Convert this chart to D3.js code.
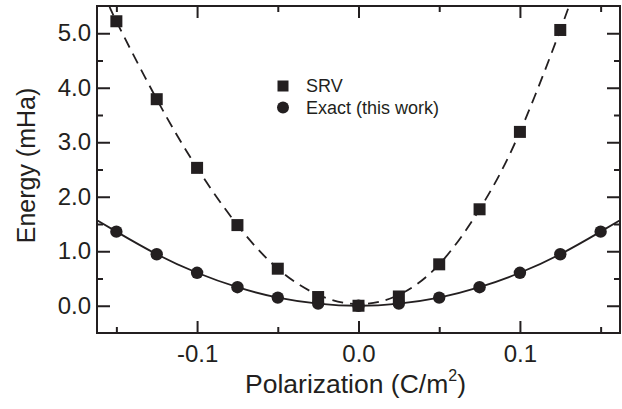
<!DOCTYPE html>
<html lang="en">
<head>
  <meta charset='utf-8'>
  <title>Energy vs polarization</title>
  <style>
    body { margin:0; background:#fff; }
    svg { display:block; background:#fff; }
    text { font-family: "Liberation Sans", Arial, Helvetica, sans-serif; fill:#231f20; }
    .tick line { stroke:#231f20; stroke-width:2px; }
    .domain { display:none; }
  </style>
</head>
<body>
  <div id="d3_energyPlot"></div>
</body>

<script src="https://cdn.jsdelivr.net/npm/d3@7/dist/d3.min.js"></script>

<script>

  ////////////////////////////////////////////////// DATA

  // polarization grid (C/m^2)
  var polarization = [-0.15, -0.125, -0.1, -0.075, -0.05, -0.025, 0.0, 0.025, 0.05, 0.075, 0.1, 0.125, 0.15];

  // energies (mHa), null = off the chart
  var srvEnergy   = [5.22, 3.79, 2.53, 1.48, 0.68, 0.16, 0.0, 0.17, 0.76, 1.77, 3.19, 5.06, null];
  var exactEnergy = [1.36, 0.945, 0.605, 0.34, 0.15, 0.04, 0.0, 0.04, 0.15, 0.34, 0.605, 0.945, 1.36];

  // fitted curves
  var srvFitP = [-0.154, -0.15, -0.125, -0.1, -0.075, -0.05, -0.025, 0.0, 0.025, 0.05, 0.075, 0.1, 0.125, 0.1303];
  var srvFitE = [5.5, 5.22, 3.79, 2.53, 1.48, 0.68, 0.2, 0.03, 0.2, 0.76, 1.77, 3.19, 5.06, 5.5];
  var exactFitP = [-0.162, -0.15, -0.125, -0.1, -0.075, -0.05, -0.025, 0.0, 0.025, 0.05, 0.075, 0.1, 0.125, 0.15, 0.162];
  var exactFitE = [1.57, 1.36, 0.945, 0.605, 0.34, 0.15, 0.04, 0.0, 0.04, 0.15, 0.34, 0.605, 0.945, 1.36, 1.57];

  // ticks
  var xMajorTicks = [-0.1, 0.0, 0.1];
  var xMinorTicks = [-0.15, -0.05, 0.05, 0.15];
  var yMajorTicks = [0, 1, 2, 3, 4, 5];
  var yMinorTicks = [0.5, 1.5, 2.5, 3.5, 4.5];

  var seriesNames = ["SRV", "Exact (this work)"];

  ////////////////////////////////////////////////// INIT VARS

  var W = 622, H = 409;
  var margin = {top: 6, right: 2, bottom: 76, left: 97};
  var plotWidth = W - margin.left - margin.right;
  var plotHeight = H - margin.top - margin.bottom;
  var ink = "#231f20";

  ////////////////////////////////////////////////// SETUP

  var svg = d3.select("#d3_energyPlot").append("svg")
    .attr("width", W)
    .attr("height", H);

  var g = svg.append("g")
    .attr("transform", "translate(" + margin.left + "," + margin.top + ")");

  var x = d3.scaleLinear().domain([-0.162, 0.162]).range([0, plotWidth]);
  var y = d3.scaleLinear().domain([-0.5, 5.5]).range([plotHeight, 0]);

  g.append("clipPath").attr("id", "plotClip")
    .append("rect").attr("width", plotWidth).attr("height", plotHeight);

  drawAxes();
  drawCurves();
  drawMarkers();
  drawLegend();

  ////////////////////////////////////////////////////////////////////////////////////////////////////
  ////////////////////////////////////////////////// FUNCTIONS

  function drawAxes(){
    var fmt = function(d){ return d.toFixed(1); };

    // bottom, labelled
    g.append("g").attr("transform", "translate(0," + plotHeight + ")")
      .call(d3.axisBottom(x).tickValues(xMajorTicks).tickSize(-12).tickPadding(12).tickFormat(fmt))
      .selectAll("text").style("font-size", "24px").attr("fill", ink);
    g.append("g").attr("transform", "translate(0," + plotHeight + ")")
      .call(d3.axisBottom(x).tickValues(xMinorTicks).tickSize(-6).tickFormat(""));

    // top, mirrored
    g.append("g")
      .call(d3.axisTop(x).tickValues(xMajorTicks).tickSize(-12).tickFormat(""));
    g.append("g")
      .call(d3.axisTop(x).tickValues(xMinorTicks).tickSize(-6).tickFormat(""));

    // left, labelled
    g.append("g")
      .call(d3.axisLeft(y).tickValues(yMajorTicks).tickSize(-13).tickPadding(6).tickFormat(fmt))
      .selectAll("text").style("font-size", "24px").attr("fill", ink);
    g.append("g")
      .call(d3.axisLeft(y).tickValues(yMinorTicks).tickSize(-6).tickFormat(""));

    // right, mirrored
    g.append("g").attr("transform", "translate(" + plotWidth + ",0)")
      .call(d3.axisRight(y).tickValues(yMajorTicks).tickSize(-13).tickFormat(""));
    g.append("g").attr("transform", "translate(" + plotWidth + ",0)")
      .call(d3.axisRight(y).tickValues(yMinorTicks).tickSize(-6).tickFormat(""));

    // frame
    g.append("rect")
      .attr("width", plotWidth).attr("height", plotHeight)
      .attr("fill", "none").attr("stroke", ink).attr("stroke-width", 2);

    // axis titles
    var xt = svg.append("text")
      .attr("x", margin.left + plotWidth / 2 - 3)
      .attr("y", 393)
      .attr("text-anchor", "middle")
      .style("font-size", "26.5px");
    xt.append("tspan").text("Polarization (C/m");
    xt.append("tspan").attr("dy", -12).style("font-size", "16px").text("2");
    xt.append("tspan").attr("dy", 12).text(")");

    svg.append("text")
      .attr("transform", "translate(35," + (margin.top + plotHeight / 2 - 4) + ") rotate(-90)")
      .attr("text-anchor", "middle")
      .style("font-size", "25px")
      .text("Energy (mHa)");
  }

  function drawCurves(){
    var clip = g.append("g").attr("clip-path", "url(#plotClip)");

    var line = d3.line()
      .x(function(d){ return x(d[0]); })
      .y(function(d){ return y(d[1]); })
      .curve(d3.curveNatural);

    clip.append("path")
      .datum(d3.zip(srvFitP, srvFitE))
      .attr("d", line)
      .attr("fill", "none").attr("stroke", ink)
      .attr("stroke-width", 1.8).attr("stroke-dasharray", "11,7");

    clip.append("path")
      .datum(d3.zip(exactFitP, exactFitE))
      .attr("d", line)
      .attr("fill", "none").attr("stroke", ink)
      .attr("stroke-width", 1.8);
  }

  function drawMarkers(){
    var s = 12;
    var srvPts = d3.zip(polarization, srvEnergy).filter(function(d){ return d[1] !== null; });
    var exactPts = d3.zip(polarization, exactEnergy);

    g.selectAll("rect.srv").data(srvPts).enter().append("rect")
      .attr("class", "srv")
      .attr("x", function(d){ return x(d[0]) - s / 2; })
      .attr("y", function(d){ return y(d[1]) - s / 2; })
      .attr("width", s).attr("height", s)
      .attr("fill", ink);

    g.selectAll("circle.exact").data(exactPts).enter().append("circle")
      .attr("class", "exact")
      .attr("cx", function(d){ return x(d[0]); })
      .attr("cy", function(d){ return y(d[1]); })
      .attr("r", 6.2)
      .attr("fill", ink);
  }

  function drawLegend(){
    var lx = 283, ly = [86, 107.5];

    svg.append("rect")
      .attr("x", lx - 5.5).attr("y", ly[0] - 5.5)
      .attr("width", 11).attr("height", 11).attr("fill", ink);
    svg.append("circle")
      .attr("cx", lx).attr("cy", ly[1]).attr("r", 6).attr("fill", ink);

    seriesNames.forEach(function(name, i){
      svg.append("text")
        .attr("x", 306).attr("y", ly[i]).attr("dy", "0.36em")
        .style("font-size", "18px")
        .text(name);
    });
  }

</script>
</html>
